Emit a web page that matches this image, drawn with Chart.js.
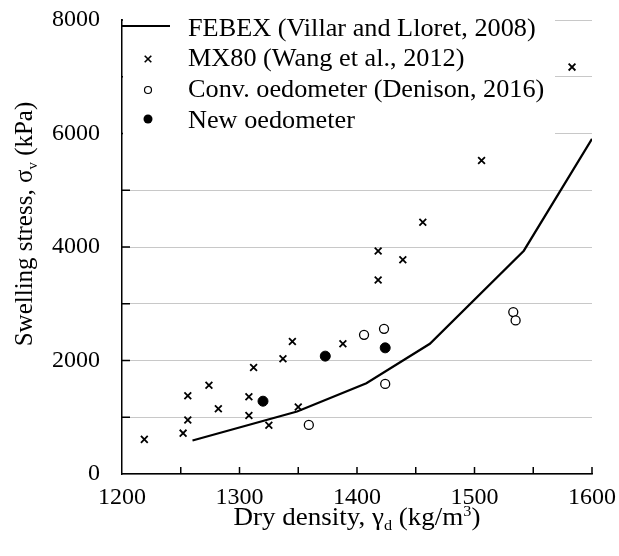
<!DOCTYPE html>
<html>
<head>
<meta charset="utf-8">
<script src="https://cdn.jsdelivr.net/npm/chart.js@4/dist/chart.umd.min.js"></script>
<style>
  html, body { margin: 0; padding: 0; background: #fff; }
  #wrap { width: 619px; height: 556px; }
</style>
</head>
<body>
<div id="wrap"><canvas id="swellChart" width="619" height="556"></canvas></div>
<script>
// values (dry density kg/m3, swelling stress kPa)
const febexDensity = [1260, 1349, 1408, 1462, 1542, 1600];
const febexStress = [590, 1100, 1600, 2295, 3935, 5905];

const mx80Density = [1219, 1252, 1256, 1256, 1274, 1282, 1308, 1308, 1312, 1325,
                     1337, 1345, 1350, 1388, 1418, 1418, 1439, 1456, 1506, 1583];
const mx80Stress = [610, 720, 950, 1380, 1565, 1150, 1360, 1030, 1875, 860,
                    2030, 2335, 1180, 2295, 3930, 3420, 3775, 4435, 5525, 7170];

const convDensity = [1359, 1406, 1423, 1424, 1533, 1535];
const convStress = [865, 2453, 2559, 1588, 2853, 2706];

const newDensity = [1320, 1373, 1424];
const newStress = [1283, 2077, 2223];

const legendLabels = [
    'FEBEX (Villar and Lloret, 2008)',
    'MX80 (Wang et al., 2012)',
    'Conv. oedometer (Denison, 2016)',
    'New oedometer'
];

const xMin = 1200, xMax = 1600, xStep = 50;
const yMin = 0, yMax = 8000, yStep = 1000;

const SERIF = '"Liberation Serif", "Times New Roman", serif';

function toPoints(xs, ys) {
    return xs.map((v, i) => ({ x: v, y: ys[i] }));
}

// little helpers to draw the legend markers by hand
function drawCross(ctx, cx, cy, r) {
    ctx.beginPath();
    ctx.moveTo(cx - r, cy - r); ctx.lineTo(cx + r, cy + r);
    ctx.moveTo(cx - r, cy + r); ctx.lineTo(cx + r, cy - r);
    ctx.stroke();
}
function drawCircle(ctx, cx, cy, r, filled) {
    ctx.beginPath();
    ctx.arc(cx, cy, r, 0, Math.PI * 2);
    if (filled) ctx.fill(); else ctx.stroke();
}

// text with a subscript / superscript piece, parts = [[text, 'n'|'sub'|'sup'], ...]
function partsWidth(ctx, parts, size, small) {
    let w = 0;
    parts.forEach(([t, k]) => {
        ctx.font = (k === 'n' ? size : small) + 'px ' + SERIF;
        w += ctx.measureText(t).width;
    });
    return w;
}
function drawParts(ctx, parts, x, y, size, small) {
    let cx = x;
    parts.forEach(([t, k]) => {
        ctx.font = (k === 'n' ? size : small) + 'px ' + SERIF;
        let dy = 0;
        if (k === 'sub') dy = 5;
        if (k === 'sup') dy = -9;
        ctx.fillText(t, cx, y + dy);
        cx += ctx.measureText(t).width;
    });
}

const overlayPlugin = {
    id: 'overlay',
    beforeDatasetsDraw(chart) {
        const { ctx, chartArea: a, scales: { x, y } } = chart;
        ctx.save();

        // tick marks pointing into the plot
        ctx.strokeStyle = '#000';
        ctx.lineWidth = 1.5;
        ctx.beginPath();
        x.ticks.forEach(t => {
            if (t.value === xMin) return;
            const px = x.getPixelForValue(t.value);
            ctx.moveTo(px, a.bottom);
            ctx.lineTo(px, a.bottom - 7);
        });
        y.ticks.forEach(t => {
            if (t.value === yMin) return;
            const py = y.getPixelForValue(t.value);
            ctx.moveTo(a.left, py);
            ctx.lineTo(a.left + 8, py);
        });
        ctx.stroke();

        // legend box (white, hides the grid behind it)
        ctx.fillStyle = '#fff';
        ctx.fillRect(a.left + 1, a.top - 2, 432, 132);

        const textX = 188;
        const baselines = [36, 66, 97, 128];
        const markY = [26, 59, 90, 119];
        ctx.fillStyle = '#000';
        ctx.strokeStyle = '#000';
        ctx.font = '25px ' + SERIF;
        ctx.textBaseline = 'alphabetic';
        ctx.textAlign = 'left';
        legendLabels.forEach((lbl, i) => {
            ctx.save();
            ctx.translate(textX, baselines[i]);
            ctx.scale(1.05, 1);
            ctx.fillText(lbl, 0, 0);
            ctx.restore();
        });

        ctx.lineWidth = 2;
        ctx.beginPath();
        ctx.moveTo(a.left, markY[0]);
        ctx.lineTo(170, markY[0]);
        ctx.stroke();
        ctx.lineWidth = 1.6;
        drawCross(ctx, 148, markY[1], 3.3);
        ctx.lineWidth = 1.2;
        drawCircle(ctx, 148, markY[2], 3.5, false);
        drawCircle(ctx, 148, markY[3], 4.5, true);

        ctx.restore();
    },
    afterDraw(chart) {
        const { ctx, chartArea: a } = chart;
        ctx.save();
        ctx.fillStyle = '#000';
        ctx.textBaseline = 'alphabetic';
        ctx.textAlign = 'left';

        // x axis title (slightly stretched like the original)
        const xParts = [['Dry density, \u03b3', 'n'], ['d', 'sub'], [' (kg/m', 'n'], ['3', 'sup'], [')', 'n']];
        const xw = partsWidth(ctx, xParts, 25, 15) * 1.08;
        ctx.save();
        ctx.translate((a.left + a.right) / 2 - xw / 2, 525);
        ctx.scale(1.08, 1);
        drawParts(ctx, xParts, 0, 0, 25, 15);
        ctx.restore();

        // y axis title, rotated
        const yParts = [['Swelling stress, \u03c3', 'n'], ['v', 'sub'], [' (kPa)', 'n']];
        const yw = partsWidth(ctx, yParts, 25, 15);
        ctx.translate(32, 224);
        ctx.rotate(-Math.PI / 2);
        drawParts(ctx, yParts, -yw / 2, 0, 25, 15);
        ctx.restore();
    }
};

const tickFont = { family: SERIF, size: 24 };

new Chart(document.getElementById('swellChart').getContext('2d'), {
    type: 'scatter',
    data: {
        datasets: [
            {
                label: legendLabels[0],
                data: toPoints(febexDensity, febexStress),
                showLine: true,
                borderColor: '#000',
                borderWidth: 2.2,
                pointRadius: 0,
                tension: 0
            },
            {
                label: legendLabels[1],
                data: toPoints(mx80Density, mx80Stress),
                pointStyle: 'crossRot',
                pointRadius: 4.8,
                borderColor: '#000',
                borderWidth: 1.8
            },
            {
                label: legendLabels[2],
                data: toPoints(convDensity, convStress),
                pointStyle: 'circle',
                pointRadius: 4.5,
                borderColor: '#000',
                backgroundColor: '#fff',
                borderWidth: 1.3
            },
            {
                label: legendLabels[3],
                data: toPoints(newDensity, newStress),
                pointStyle: 'circle',
                pointRadius: 5,
                borderColor: '#000',
                backgroundColor: '#000',
                borderWidth: 1
            }
        ]
    },
    options: {
        responsive: false,
        animation: false,
        devicePixelRatio: 1,
        layout: { padding: { top: 20, right: 27, left: 0, bottom: 0 } },
        plugins: { legend: { display: false }, tooltip: { enabled: false } },
        scales: {
            x: {
                type: 'linear',
                min: xMin, max: xMax,
                afterFit: s => { s.height = 82; s.paddingLeft = 0; s.paddingRight = 0; },
                ticks: {
                    stepSize: xStep, autoSkip: false, maxRotation: 0,
                    padding: 9, color: '#000', font: tickFont,
                    callback: v => (v % 100 === 0 ? String(v) : '')
                },
                grid: { display: false, drawTicks: false },
                border: { display: true, color: '#000', width: 1.5 }
            },
            y: {
                type: 'linear',
                min: yMin, max: yMax,
                afterFit: s => { s.width = 122; s.paddingTop = 0; s.paddingBottom = 0; },
                ticks: {
                    stepSize: yStep, autoSkip: false,
                    padding: 22, color: '#000', font: tickFont,
                    callback: v => (v % 2000 === 0 ? String(v) : '')
                },
                grid: { color: '#c8c8c8', lineWidth: 1, drawTicks: false },
                border: { display: true, color: '#000', width: 1.5 }
            }
        }
    },
    plugins: [overlayPlugin]
});
</script>
</body>
</html>
